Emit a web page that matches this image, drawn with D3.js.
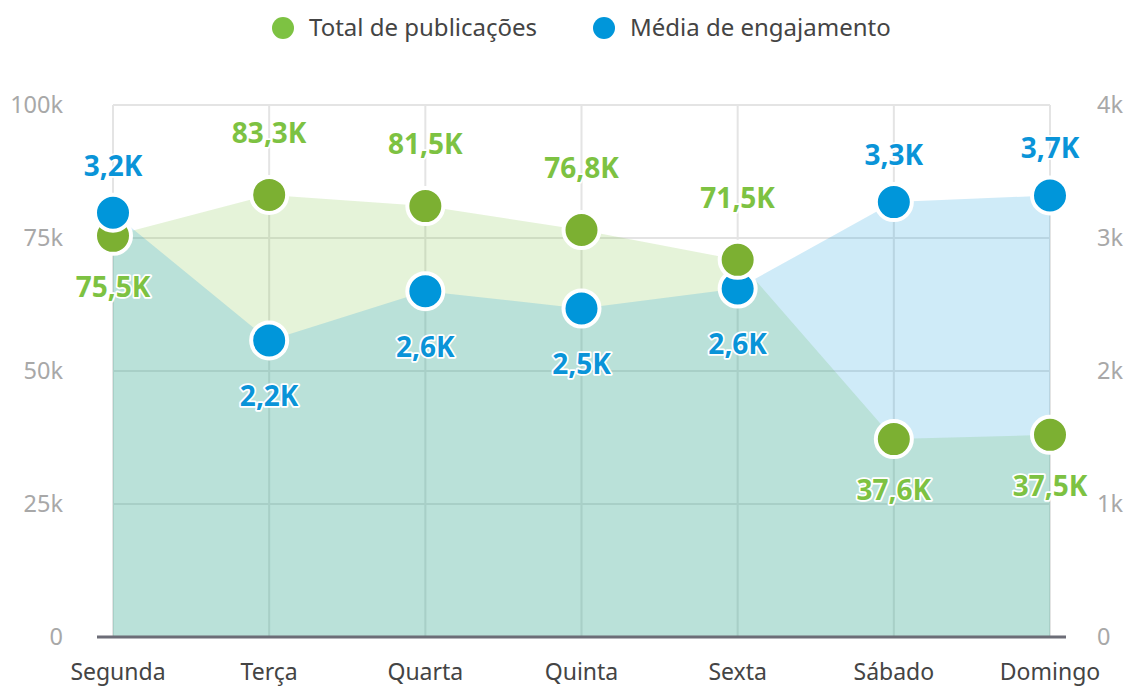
<!DOCTYPE html>
<html>
<head>
<meta charset="utf-8">
<script src="https://cdn.jsdelivr.net/npm/d3@7"></script>
<style>
  body { margin: 0; background: #fff; }
  svg { display: block; font-family: "Noto Sans", sans-serif; }
  .grid line { stroke: #e4e4e4; stroke-width: 2; }
  .tick-left, .tick-right { fill: #a8a8a8; font-size: 23.5px; }
  .cat { fill: #444; font-size: 23px; }
  .legend text { fill: #444; font-size: 24px; }
  .val { font-size: 28px; font-weight: bold; stroke: #fff; stroke-width: 3.5; paint-order: stroke; stroke-linejoin: round; }
</style>
</head>
<body>
<svg id="chart"></svg>
<script>
const width = 1129;
const height = 689;

// data
var days = ["Segunda", "Terça", "Quarta", "Quinta", "Sexta", "Sábado", "Domingo"];
var publicacoes = [75400, 83100, 81000, 76500, 70900, 37200, 38000];
var engajamento = [3190, 2230, 2600, 2470, 2620, 3270, 3320];
var pubLabels = ["75,5K", "83,3K", "81,5K", "76,8K", "71,5K", "37,6K", "37,5K"];
var engLabels = ["3,2K", "2,2K", "2,6K", "2,5K", "2,6K", "3,3K", "3,7K"];
var leftTicks = [0, 25000, 50000, 75000, 100000];
var rightTicks = [0, 1000, 2000, 3000, 4000];
var seriesNames = ["Total de publicações", "Média de engajamento"];

const green = "#7cb032";
const greenText = "#7dc242";
const blue = "#0096da";
const blueText = "#0a94d8";

var svg = d3.select("#chart").attr("width", width).attr("height", height);

var x = d3.scalePoint().domain(days).range([113, 1050]);
var yL = d3.scaleLinear().domain([0, 100000]).range([637, 105]);
var yR = d3.scaleLinear().domain([0, 4000]).range([637, 105]);

// grid
var grid = svg.append("g").attr("class", "grid");
leftTicks.forEach(function(t) {
    if (t === 0) return;
    grid.append("line").attr("x1", x(days[0])).attr("x2", x(days[days.length - 1]))
        .attr("y1", yL(t)).attr("y2", yL(t));
});
days.forEach(function(d) {
    grid.append("line").attr("x1", x(d)).attr("x2", x(d))
        .attr("y1", yL(100000)).attr("y2", yL(0));
});

// areas
var areaL = d3.area().x((d, i) => x(days[i])).y0(yL(0)).y1(d => yL(d));
var areaR = d3.area().x((d, i) => x(days[i])).y0(yR(0)).y1(d => yR(d));
svg.append("path").datum(publicacoes).attr("d", areaL)
    .attr("fill", greenText).attr("fill-opacity", 0.2);
svg.append("path").datum(engajamento).attr("d", areaR)
    .attr("fill", blue).attr("fill-opacity", 0.19);

// baseline
svg.append("line").attr("x1", 97).attr("x2", 1066)
    .attr("y1", yL(0)).attr("y2", yL(0))
    .attr("stroke", "#6c6d77").attr("stroke-width", 3);

// axis labels
var fmt = d => d === 0 ? "0" : (d / 1000) + "k";
svg.selectAll(".tick-left").data(leftTicks).enter().append("text")
    .attr("class", "tick-left")
    .attr("x", 63).attr("y", d => yL(d)).attr("dy", "0.35em")
    .attr("text-anchor", "end").text(fmt);
svg.selectAll(".tick-right").data(rightTicks).enter().append("text")
    .attr("class", "tick-right")
    .attr("x", 1097).attr("y", d => yR(d)).attr("dy", "0.35em")
    .attr("text-anchor", "start").text(fmt);
svg.selectAll(".cat").data(days).enter().append("text")
    .attr("class", "cat")
    .attr("x", (d, i) => i === 0 ? x(d) + 5 : x(d)).attr("y", 680)
    .attr("text-anchor", "middle").text(d => d);

// points: lower one drawn first so the upper one sits on top
var pts = [];
days.forEach(function(d, i) {
    var pg = {x: x(d), y: yL(publicacoes[i]), col: green};
    var pb = {x: x(d), y: yR(engajamento[i]), col: blue};
    if (pg.y > pb.y) { pts.push(pg, pb); } else { pts.push(pb, pg); }
});
svg.selectAll(".point").data(pts).enter().append("circle")
    .attr("class", "point")
    .attr("cx", d => d.x).attr("cy", d => d.y).attr("r", 18)
    .attr("fill", d => d.col).attr("stroke", "#fff").attr("stroke-width", 4);

// value labels: above when the point is the upper one, else below
days.forEach(function(d, i) {
    var gy = yL(publicacoes[i]);
    var by = yR(engajamento[i]);
    svg.append("text").attr("class", "val")
        .attr("x", x(d)).attr("y", gy < by ? gy - 62 : gy + 51).attr("dy", "0.35em")
        .attr("text-anchor", "middle").attr("fill", greenText).text(pubLabels[i]);
    svg.append("text").attr("class", "val")
        .attr("x", x(d)).attr("y", by <= gy ? by - 47 : by + 56).attr("dy", "0.35em")
        .attr("text-anchor", "middle").attr("fill", blueText).text(engLabels[i]);
});

// legend
var legend = svg.append("g").attr("class", "legend");
var legX = [283, 604];
var legCol = [greenText, blue];
seriesNames.forEach(function(s, i) {
    legend.append("circle").attr("cx", legX[i]).attr("cy", 28).attr("r", 11).attr("fill", legCol[i]);
    legend.append("text").attr("x", legX[i] + 26).attr("y", 28).attr("dy", "0.35em").text(s);
});
</script>
</body>
</html>
